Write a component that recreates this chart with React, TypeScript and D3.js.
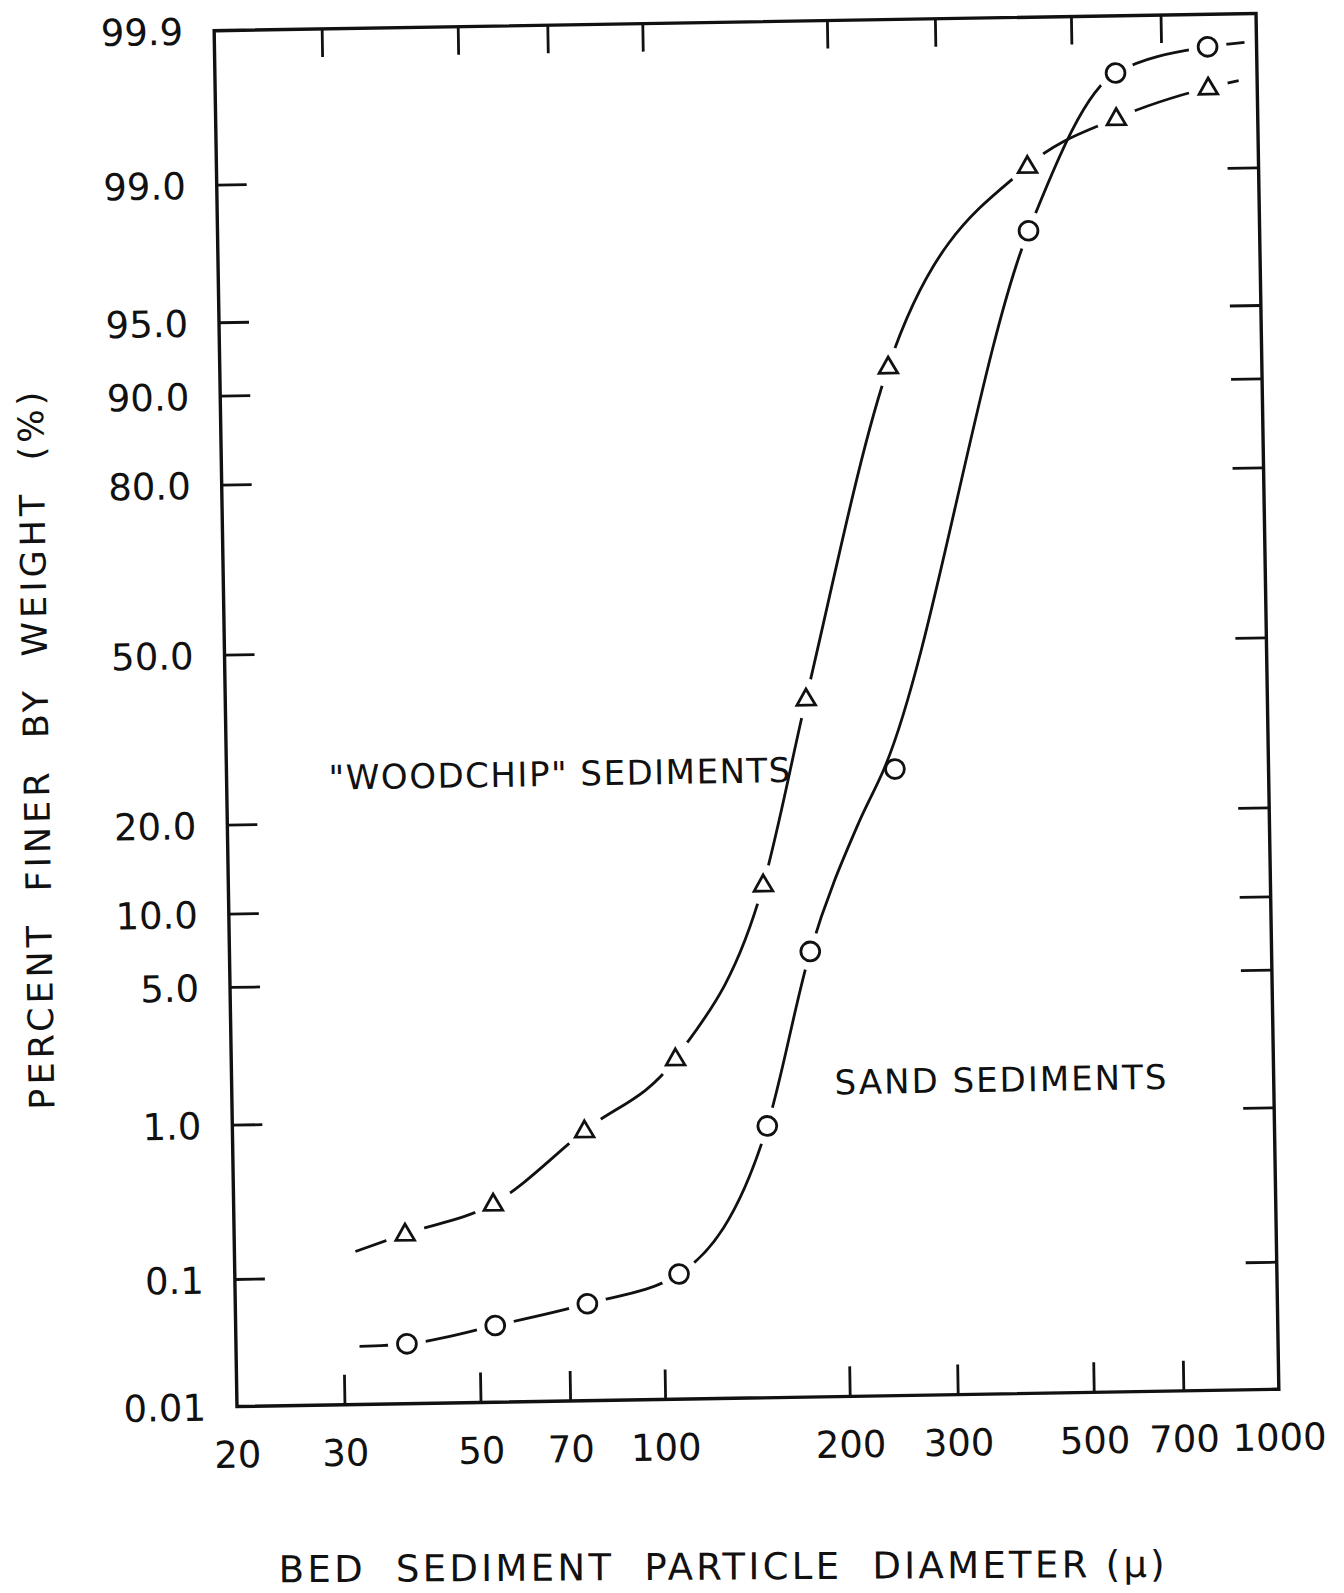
import React from 'react';
import * as d3 from 'd3';

const W = 1344;
const H = 1593;

// axis ticks
const xTicks = [20, 30, 50, 70, 100, 200, 300, 500, 700, 1000];
const yTicks = [0.01, 0.1, 1.0, 5.0, 10.0, 20.0, 50.0, 80.0, 90.0, 95.0, 99.0, 99.9];
const yTickLabels = ['0.01', '0.1', '1.0', '5.0', '10.0', '20.0', '50.0', '80.0', '90.0', '95.0', '99.0', '99.9'];

// sieve diameters (microns) and percent finer
const diameters = [38, 53, 75, 106, 149, 177, 246, 420, 588, 832];
const woodchip = [0.2, 0.31, 0.86, 2.1, 11.9, 39.6, 91.5, 99.07, 99.51, 99.68];
const sand = [0.031, 0.042, 0.06, 0.097, 0.88, 6.5, 26.8, 97.9, 99.75, 99.83];

// the hand drawn curves
const woodchipCurve: [number, number][] = [
  [31.5, 0.153], [38, 0.2], [53, 0.31], [75, 0.86], [106, 2.1], [149, 11.9],
  [177, 39.6], [246, 91.5], [420, 99.07], [588, 99.51], [832, 99.68], [933, 99.71],
];
const sandCurve: [number, number][] = [
  [31.8, 0.03], [38, 0.031], [53, 0.042], [75, 0.06], [106, 0.097], [149, 0.88],
  [177, 6.5], [214, 18.9], [236, 26.8], [420, 97.9], [588, 99.75], [832, 99.83], [956, 99.84],
];

// inverse normal cdf (Acklam)
function probit(p: number): number {
  const a = [-39.69683028665376, 220.9460984245205, -275.9285104469687, 138.357751867269, -30.66479806614716, 2.506628277459239];
  const b = [-54.47609879822406, 161.5858368580409, -155.6989798598866, 66.80131188771972, -13.28068155288572];
  const c = [-0.007784894002430293, -0.3223964580411365, -2.400758277161838, -2.549732539343734, 4.374664141464968, 2.938163982698783];
  const d = [0.007784695709041462, 0.3224671290700398, 2.445134137142996, 3.754408661907416];
  const pl = 0.02425;
  if (p < pl) {
    const q = Math.sqrt(-2 * Math.log(p));
    return (((((c[0] * q + c[1]) * q + c[2]) * q + c[3]) * q + c[4]) * q + c[5]) /
      ((((d[0] * q + d[1]) * q + d[2]) * q + d[3]) * q + 1);
  }
  if (p > 1 - pl) {
    const q = Math.sqrt(-2 * Math.log(1 - p));
    return -(((((c[0] * q + c[1]) * q + c[2]) * q + c[3]) * q + c[4]) * q + c[5]) /
      ((((d[0] * q + d[1]) * q + d[2]) * q + d[3]) * q + 1);
  }
  const q = p - 0.5;
  const r = q * q;
  return (((((a[0] * r + a[1]) * r + a[2]) * r + a[3]) * r + a[4]) * r + a[5]) * q /
    (((((b[0] * r + b[1]) * r + b[2]) * r + b[3]) * r + b[4]) * r + 1);
}

const margin = { left: 225.5, right: 1267.5, top: 22, bottom: 1398 };
const cx = (margin.left + margin.right) / 2;
const cy = (margin.top + margin.bottom) / 2;

const x = d3.scaleLog().domain([20, 1000]).range([margin.left, margin.right]);
const zScale = d3.scaleLinear().domain([probit(0.0001), probit(0.999)]).range([margin.bottom, margin.top]);
const y = (pct: number) => zScale(probit(pct / 100));

const line = d3.line<[number, number]>()
  .x(d => x(d[0]))
  .y(d => y(d[1]))
  .curve(d3.curveMonotoneX);

const woodchipPts: [number, number][] = diameters.map((dm, i) => [dm, woodchip[i]]);
const sandPts: [number, number][] = diameters.map((dm, i) => [dm, sand[i]]);

// the line breaks round a marker only where it runs through it
const onCurve = (curve: [number, number][], p: [number, number]) =>
  curve.some(c => c[0] === p[0] && c[1] === p[1]);

const triangle = d3.symbol(d3.symbolTriangle, 150)();

const ink = '#111';
const font = '"DejaVu Sans", Verdana, sans-serif';

export default function App() {
  const titleY = margin.bottom + 181;
  return (
    <svg width={W} height={H} style={{ position: 'absolute', left: 0, top: 0, background: '#fff' }}
      fontFamily={font} fill={ink}>
      <rect x={0} y={0} width={W} height={H} fill="#fff" />
      <g transform={`rotate(-0.95 ${cx} ${cy})`}>
        {/* curves */}
        <path d={line(woodchipCurve) || ''} fill="none" stroke={ink} strokeWidth={2.8} />
        <path d={line(sandCurve) || ''} fill="none" stroke={ink} strokeWidth={2.8} />

        {/* gaps round the markers */}
        {woodchipPts.filter(p => onCurve(woodchipCurve, p)).map((p, i) => (
          <circle key={'hw' + i} cx={x(p[0])} cy={y(p[1])} r={20} fill="#fff" />
        ))}
        {sandPts.filter(p => onCurve(sandCurve, p)).map((p, i) => (
          <circle key={'hs' + i} cx={x(p[0])} cy={y(p[1])} r={19} fill="#fff" />
        ))}

        {/* markers */}
        {woodchipPts.map((p, i) => (
          <path key={'w' + i} d={triangle || ''} transform={`translate(${x(p[0])},${y(p[1]) + 1})`}
            fill="#fff" stroke={ink} strokeWidth={2.8} />
        ))}
        {sandPts.map((p, i) => (
          <circle key={'s' + i} cx={x(p[0])} cy={y(p[1])} r={9.4} fill="#fff" stroke={ink} strokeWidth={2.8} />
        ))}

        {/* frame */}
        <rect x={margin.left} y={margin.top} width={margin.right - margin.left} height={margin.bottom - margin.top}
          fill="none" stroke={ink} strokeWidth={3.4} />

        {/* x ticks, top and bottom */}
        {xTicks.slice(1, -1).map(t => (
          <g key={'xt' + t} stroke={ink} strokeWidth={2.8}>
            <line x1={x(t)} x2={x(t)} y1={margin.bottom} y2={margin.bottom - 30} />
            <line x1={x(t)} x2={x(t)} y1={margin.top} y2={margin.top + 28} />
          </g>
        ))}
        {xTicks.map(t => (
          <text key={'xl' + t} x={x(t)} y={margin.bottom + 61} textAnchor="middle" fontSize={37}>{t}</text>
        ))}

        {/* y ticks, left and right */}
        {yTicks.slice(1, -1).map(t => (
          <g key={'yt' + t} stroke={ink} strokeWidth={2.8}>
            <line x1={margin.left} x2={margin.left + 30} y1={y(t)} y2={y(t)} />
            <line x1={margin.right} x2={margin.right - 31} y1={y(t)} y2={y(t)} />
          </g>
        ))}
        {yTicks.map((t, i) => (
          <text key={'yl' + t} x={margin.left - 31} y={y(t) + 13.5} textAnchor="end" fontSize={37}>{yTickLabels[i]}</text>
        ))}

        {/* annotations */}
        <text x={x(70)} y={y(27) + 12.4} textAnchor="middle" fontSize={34} letterSpacing={1.5}>"WOODCHIP" SEDIMENTS</text>
        <text x={x(360)} y={y(1.53) + 12.4} textAnchor="middle" fontSize={34} letterSpacing={2}>SAND SEDIMENTS</text>

        {/* axis titles */}
        <text x={709} y={titleY} textAnchor="middle" fontSize={37} letterSpacing={3.3}
          transform={`rotate(0.6 709 ${titleY})`}
          style={{ whiteSpace: 'pre' }}>{'BED  SEDIMENT  PARTICLE  DIAMETER (\u03bc)'}</text>
        <text transform={`translate(48,737) rotate(-90)`} textAnchor="middle" fontSize={35} letterSpacing={4}
          style={{ whiteSpace: 'pre' }}>{'PERCENT  FINER  BY  WEIGHT  (%)'}</text>
      </g>
    </svg>
  );
}
